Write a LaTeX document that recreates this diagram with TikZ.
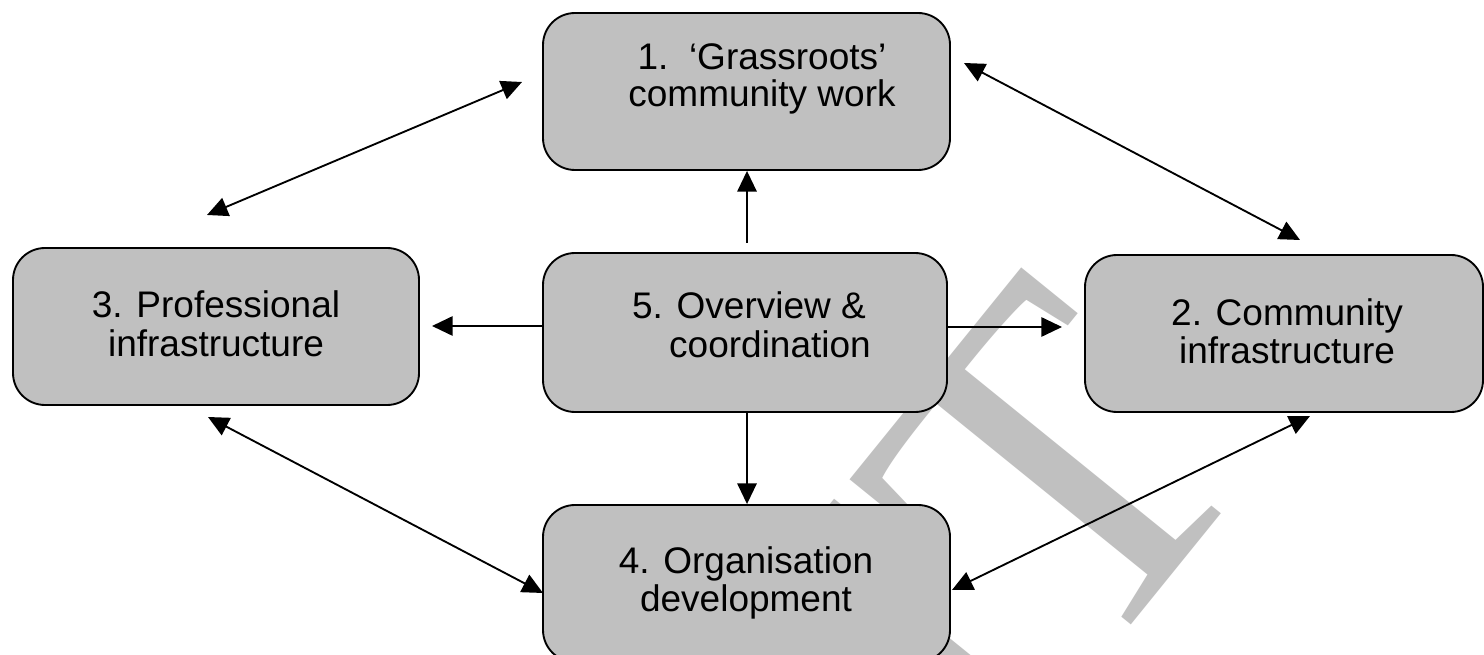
\documentclass[tikz,border=0pt]{standalone}
\usepackage{fontspec}
\setmainfont{Liberation Sans}
\newfontfamily\wmfont{Liberation Serif}
\usetikzlibrary{arrows.meta,calc}
\definecolor{boxgrey}{HTML}{C0C0C0}
\definecolor{wmgrey}{HTML}{C0C0C0}
\begin{document}
\begin{tikzpicture}[x=0.75pt,y=-0.75pt,
  box/.style={draw=black, line width=1.4pt, fill=boxgrey, rounded corners=24pt, inner sep=0pt},
  lbl/.style={anchor=base, inner sep=0pt, font=\fontsize{27.75}{30}\selectfont},
  wm/.style={inner sep=0pt, text=wmgrey, font=\wmfont\fontsize{355}{355}\selectfont},
  conn/.style={draw=black, line width=1.4pt},
  arr/.style={conn, -{Triangle[length=15.5pt,width=14.5pt]}},
  darr/.style={conn, {Triangle[length=15.5pt,width=14.5pt]}-{Triangle[length=15.5pt,width=14.5pt]}},
]
\useasboundingbox (0,0) rectangle (1484,655);
\fill[white] (0,0) rectangle (1484,655);
% watermark
\node[wm, rotate=51, anchor=base east] (wmark) at (1268,456) {DRAFT};
% boxes
\node[box, minimum width=305.25pt, minimum height=117.75pt] (b1) at (746.5,91.5) {};
\node[box, minimum width=304.5pt, minimum height=117.75pt] (b3) at (216,326.5) {};
\node[box, minimum width=303pt, minimum height=119.25pt] (b5) at (745,332.5) {};
\node[box, minimum width=298.5pt, minimum height=117.75pt] (b2) at (1284,333.5) {};
\node[box, minimum width=305.25pt, minimum height=117.75pt] (b4) at (746.5,583.5) {};
% labels
\node[lbl] (t1a) at (762,70) {1.\ \ ‘Grassroots’};
\node[lbl] (t1b) at (762,107) {community work};
\node[lbl] (t3a) at (216,318) {3. Professional};
\node[lbl] (t3b) at (216,357) {infrastructure};
\node[lbl] (t5a) at (749,319) {5. Overview \&};
\node[lbl] (t5b) at (770,358) {coordination};
\node[lbl] (t2a) at (1287,326) {2. Community};
\node[lbl] (t2b) at (1287,364) {infrastructure};
\node[lbl] (t4a) at (746,573) {4. Organisation};
\node[lbl] (t4b) at (746,611) {development};
% free ends
\coordinate (a3) at (207,215);
\coordinate (a1) at (522,82);
\coordinate (c1) at (964,63);
\coordinate (c2) at (1300,240);
\coordinate (d3) at (208,417);
\coordinate (d4) at (543,593);
\coordinate (f4) at (952,590);
\coordinate (f2) at (1310,416);
\coordinate (e5) at (747,243);
\coordinate (g5) at (543,326);
\coordinate (g3) at (432,326);
\coordinate (h5) at (947,327);
\coordinate (h2) at (1062,327);
% connectors
\draw[darr] (a3) -- (a1);
\draw[darr] (c1) -- (c2);
\draw[darr] (d3) -- (d4);
\draw[darr] (f4) -- (f2);
\draw[arr] (e5) -- (b1.south -| e5);
\draw[arr] (b5.south -| e5) -- (b4.north -| e5);
\draw[arr] (g5) -- (g3);
\draw[arr] (h5) -- (h2);
\end{tikzpicture}
\end{document}
